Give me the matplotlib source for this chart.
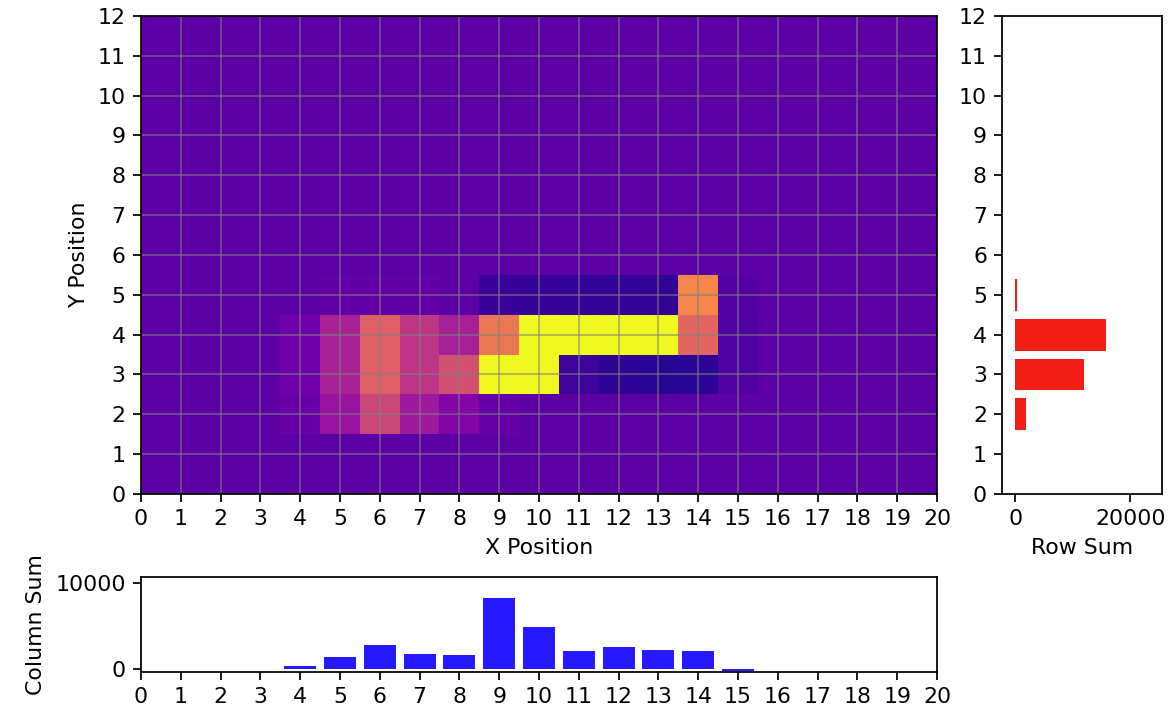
import numpy as np
import matplotlib
matplotlib.use("Agg")
import matplotlib.pyplot as plt

# Grid: 13 rows (y = 0..12) x 21 columns (x = 0..20); rows not listed are zero
x_positions = list(range(21))
y_positions = list(range(13))

row_y2 = [0, 0, 0, 0, 60, 370, 800, 420, 230, 50, 0, 0, 0, 0, 0, 0, 0, 0, 0, 0, 0]
row_y3 = [0, 0, 0, 0, 120, 495, 1010, 665, 880, 7250, 2650, -180, -260, -280, -270, -80, 0, 0, 0, 0, 0]
row_y4 = [0, 0, 0, 0, 120, 495, 1010, 665, 480, 1200, 2500, 2540, 3090, 2740, 1050, -80, 0, 0, 0, 0, 0]
row_y5 = [0, 0, 0, 0, 0, 40, 40, 40, 0, -200, -220, -230, -240, -250, 1300, -50, 0, 0, 0, 0, 0]

nonzero_rows = {2: row_y2, 3: row_y3, 4: row_y4, 5: row_y5}

grid = np.zeros((len(y_positions), len(x_positions)))
for r, vals in nonzero_rows.items():
    grid[r, :] = vals

col_sum = grid.sum(axis=0)
row_sum = grid.sum(axis=1)

dpi = 158
fig = plt.figure(figsize=(1174 / dpi, 708 / dpi), dpi=dpi)

ax_main = fig.add_axes([0.1201, 0.3023, 0.678, 0.6751])
ax_right = fig.add_axes([0.8537, 0.3023, 0.1358, 0.6751])
ax_bottom = fig.add_axes([0.1201, 0.0508, 0.678, 0.1338])

ax_main.imshow(grid, cmap="plasma", origin="lower", aspect="auto",
               interpolation="nearest", vmin=-400, vmax=2000,
               extent=(-0.5, 20.5, -0.5, 12.5))
ax_main.set_xlim(0, 20)
ax_main.set_ylim(0, 12)
ax_main.set_xticks(x_positions)
ax_main.set_yticks(y_positions)
ax_main.grid(True, color="gray", alpha=0.6)
ax_main.set_xlabel("X Position")
ax_main.set_ylabel("Y Position")

ax_right.barh(y_positions, row_sum, height=0.8, color="#f01208", alpha=0.95)
ax_right.set_ylim(0, 12)
ax_right.set_yticks(y_positions)
ax_right.set_xlim(-2260, 25460)
ax_right.set_xticks([0, 20000])
ax_right.set_xlabel("Row Sum")

ax_bottom.bar(x_positions, col_sum, width=0.8, color="#1a0cff", alpha=0.95)
ax_bottom.set_xlim(0, 20)
ax_bottom.set_xticks(x_positions)
ax_bottom.set_ylim(-350, 10700)
ax_bottom.set_yticks([0, 10000])
ax_bottom.set_ylabel("Column Sum")

fig.savefig("out.png", dpi=dpi)
